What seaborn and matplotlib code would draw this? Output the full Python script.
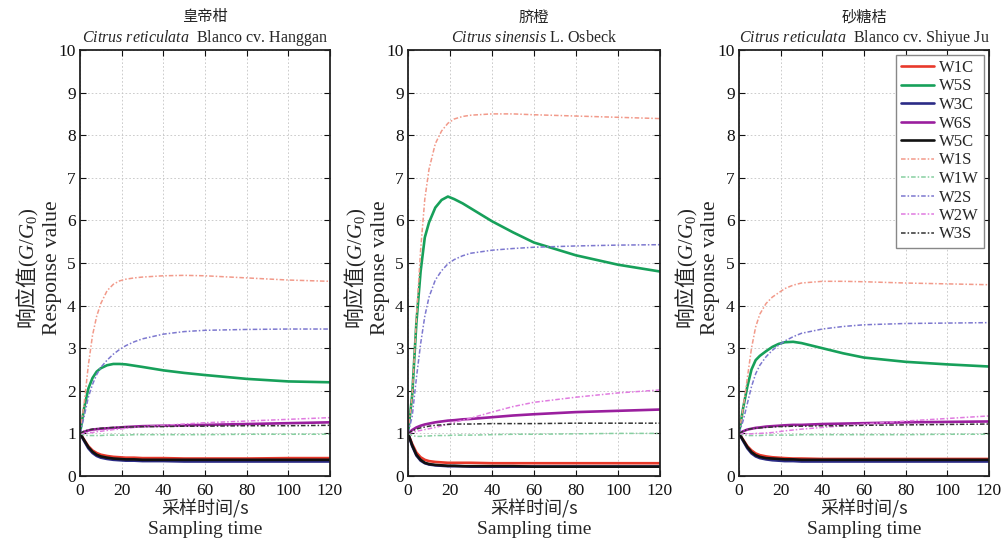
import numpy as np
import pandas as pd
import matplotlib
matplotlib.use("Agg")
import matplotlib.pyplot as plt
from matplotlib.lines import Line2D
import seaborn as sns

sensors = ["W1C", "W5S", "W3C", "W6S", "W5C", "W1S", "W1W", "W2S", "W2W", "W3S"]
time_s = [0, 2, 4, 6, 8, 10, 13, 16, 19, 22, 26, 30, 40, 50, 60, 80, 100, 120]

# response value G/G0, one row per sensor (same order as sensors)
hanggan = [
    [1.0, 0.85, 0.70, 0.60, 0.54, 0.50, 0.47, 0.45, 0.44, 0.43, 0.43, 0.42, 0.42, 0.41, 0.41, 0.41, 0.42, 0.42],
    [1.0, 1.60, 2.05, 2.30, 2.45, 2.53, 2.60, 2.63, 2.63, 2.62, 2.59, 2.56, 2.48, 2.42, 2.37, 2.28, 2.22, 2.20],
    [1.0, 0.82, 0.65, 0.54, 0.47, 0.43, 0.40, 0.38, 0.37, 0.36, 0.36, 0.35, 0.35, 0.34, 0.34, 0.34, 0.34, 0.34],
    [1.0, 1.04, 1.07, 1.09, 1.10, 1.11, 1.12, 1.13, 1.14, 1.15, 1.16, 1.17, 1.18, 1.19, 1.20, 1.22, 1.24, 1.26],
    [1.0, 0.84, 0.68, 0.57, 0.50, 0.46, 0.43, 0.41, 0.40, 0.39, 0.39, 0.38, 0.38, 0.38, 0.38, 0.38, 0.38, 0.38],
    [1.0, 1.70, 2.60, 3.30, 3.75, 4.05, 4.35, 4.50, 4.58, 4.62, 4.65, 4.67, 4.70, 4.71, 4.70, 4.65, 4.60, 4.57],
    [1.0, 0.96, 0.95, 0.95, 0.95, 0.95, 0.96, 0.96, 0.96, 0.96, 0.97, 0.97, 0.97, 0.97, 0.97, 0.98, 0.98, 0.98],
    [1.0, 1.40, 1.85, 2.15, 2.38, 2.55, 2.72, 2.86, 2.97, 3.06, 3.15, 3.22, 3.33, 3.39, 3.42, 3.44, 3.45, 3.45],
    [1.0, 1.00, 1.01, 1.02, 1.04, 1.05, 1.07, 1.09, 1.10, 1.12, 1.14, 1.16, 1.19, 1.22, 1.25, 1.29, 1.33, 1.37],
    [1.0, 1.05, 1.08, 1.10, 1.11, 1.12, 1.13, 1.14, 1.14, 1.15, 1.15, 1.16, 1.16, 1.17, 1.17, 1.18, 1.18, 1.19],
]
navel = [
    [1.0, 0.75, 0.55, 0.44, 0.38, 0.35, 0.33, 0.32, 0.31, 0.31, 0.31, 0.31, 0.30, 0.30, 0.30, 0.30, 0.30, 0.30],
    [1.0, 1.90, 3.60, 4.80, 5.60, 5.95, 6.30, 6.48, 6.56, 6.50, 6.40, 6.28, 5.98, 5.72, 5.48, 5.18, 4.96, 4.80],
    [1.0, 0.70, 0.48, 0.36, 0.30, 0.27, 0.25, 0.24, 0.23, 0.23, 0.23, 0.22, 0.22, 0.22, 0.22, 0.22, 0.22, 0.22],
    [1.0, 1.08, 1.14, 1.18, 1.21, 1.23, 1.26, 1.28, 1.30, 1.31, 1.33, 1.34, 1.38, 1.42, 1.45, 1.50, 1.53, 1.56],
    [1.0, 0.72, 0.50, 0.38, 0.31, 0.28, 0.26, 0.25, 0.24, 0.24, 0.23, 0.23, 0.23, 0.23, 0.22, 0.22, 0.22, 0.22],
    [1.0, 1.90, 3.70, 5.30, 6.50, 7.20, 7.80, 8.10, 8.28, 8.38, 8.44, 8.47, 8.50, 8.50, 8.48, 8.45, 8.42, 8.39],
    [1.0, 0.95, 0.93, 0.93, 0.94, 0.94, 0.95, 0.95, 0.95, 0.96, 0.96, 0.96, 0.97, 0.98, 0.98, 0.99, 1.00, 1.00],
    [1.0, 1.40, 2.30, 3.10, 3.75, 4.20, 4.60, 4.82, 4.98, 5.08, 5.17, 5.23, 5.30, 5.34, 5.37, 5.40, 5.42, 5.43],
    [1.0, 1.02, 1.05, 1.07, 1.09, 1.11, 1.14, 1.18, 1.22, 1.26, 1.31, 1.36, 1.50, 1.63, 1.73, 1.85, 1.95, 2.02],
    [1.0, 1.06, 1.10, 1.13, 1.15, 1.17, 1.19, 1.20, 1.21, 1.22, 1.22, 1.22, 1.23, 1.23, 1.23, 1.24, 1.24, 1.24],
]
shatang = [
    [1.0, 0.85, 0.70, 0.60, 0.53, 0.49, 0.46, 0.44, 0.43, 0.42, 0.41, 0.41, 0.40, 0.40, 0.40, 0.40, 0.40, 0.40],
    [1.0, 1.60, 2.10, 2.50, 2.72, 2.82, 2.93, 3.03, 3.10, 3.14, 3.15, 3.12, 3.00, 2.88, 2.78, 2.68, 2.62, 2.57],
    [1.0, 0.82, 0.65, 0.53, 0.46, 0.42, 0.39, 0.37, 0.36, 0.35, 0.35, 0.34, 0.34, 0.34, 0.34, 0.34, 0.34, 0.34],
    [1.0, 1.05, 1.09, 1.11, 1.13, 1.14, 1.16, 1.17, 1.18, 1.19, 1.20, 1.20, 1.22, 1.23, 1.24, 1.26, 1.27, 1.28],
    [1.0, 0.84, 0.68, 0.56, 0.49, 0.45, 0.42, 0.41, 0.40, 0.39, 0.39, 0.38, 0.38, 0.38, 0.38, 0.38, 0.38, 0.38],
    [1.0, 1.60, 2.30, 3.00, 3.50, 3.80, 4.05, 4.20, 4.30, 4.40, 4.48, 4.53, 4.57, 4.57, 4.56, 4.53, 4.51, 4.49],
    [1.0, 0.96, 0.95, 0.95, 0.95, 0.95, 0.96, 0.96, 0.96, 0.96, 0.96, 0.97, 0.97, 0.97, 0.97, 0.97, 0.98, 0.98],
    [1.0, 1.30, 1.70, 2.10, 2.40, 2.60, 2.80, 2.95, 3.07, 3.17, 3.27, 3.35, 3.45, 3.51, 3.55, 3.58, 3.59, 3.60],
    [1.0, 0.99, 0.99, 0.99, 1.00, 1.00, 1.01, 1.02, 1.04, 1.06, 1.08, 1.10, 1.14, 1.18, 1.22, 1.29, 1.35, 1.41],
    [1.0, 1.05, 1.09, 1.11, 1.12, 1.13, 1.14, 1.15, 1.16, 1.16, 1.17, 1.17, 1.18, 1.18, 1.19, 1.20, 1.21, 1.22],
]

titles_cn = ["皇帝柑", "脐橙", "砂糖桔"]
titles_la = [r"$\mathit{Citrus\ reticulata}$  Blanco cv. Hanggan",
             r"$\mathit{Citrus\ sinensis}$ L. Osbeck",
             r"$\mathit{Citrus\ reticulata}$  Blanco cv. Shiyue Ju"]

palette = {"W1C": "#e8392b", "W5S": "#17a05a", "W3C": "#2b2b86", "W6S": "#9a1f9e", "W5C": "#111111",
           "W1S": "#f29a8a", "W1W": "#86cfa0", "W2S": "#7d78cf", "W2W": "#e07be0", "W3S": "#333333"}
solid = ["W1C", "W5S", "W3C", "W6S", "W5C"]
dashes = {s: ("" if s in solid else (3, 1.3, 1, 1.3)) for s in sensors}
widths = {s: (1.9 if s in solid else 1.1) for s in sensors}

sns.set_style("ticks")
plt.rcParams["font.family"] = ["Liberation Serif", "Noto Sans CJK SC"]
plt.rcParams["mathtext.fontset"] = "custom"
plt.rcParams["mathtext.rm"] = "Liberation Serif"
plt.rcParams["mathtext.it"] = "Liberation Serif:italic"

W, H = 1001, 540
fig = plt.figure(figsize=(W / 100, H / 100), dpi=100)

lefts = [80, 408, 739]
widths_px = [250, 252, 250]
top, bottom = 50, 476


def fx(x):
    return x / W


def fy(y):
    return 1 - y / H


for i, vals in enumerate([hanggan, navel, shatang]):
    l, w = lefts[i], widths_px[i]
    ax = fig.add_axes([fx(l), fy(bottom), w / W, (bottom - top) / H])
    df = pd.DataFrame({"t": np.tile(time_s, len(sensors)),
                       "sensor": np.repeat(sensors, len(time_s)),
                       "v": np.ravel(vals)})
    sns.lineplot(data=df, x="t", y="v", hue="sensor", style="sensor", size="sensor",
                 hue_order=sensors, style_order=sensors, size_order=sensors,
                 palette=palette, dashes=dashes, sizes=widths,
                 estimator=None, legend=False, ax=ax)
    ax.set_xlim(0, 120)
    ax.set_ylim(0, 10)
    ax.set_xticks(range(0, 121, 20))
    ax.set_yticks(range(0, 11))
    ax.set_xlabel("")
    ax.set_ylabel("")
    ax.grid(True, ls=(0, (2, 2.5)), color="#c4c4c4", lw=0.6)
    ax.tick_params(direction="in", top=True, right=True, length=4, width=0.8,
                   labelsize=12.5, colors="#111111")
    ax.tick_params(axis="x", pad=5)
    ax.tick_params(axis="y", pad=3)
    for sp in ax.spines.values():
        sp.set_linewidth(1.3)
        sp.set_color("#222222")

    cx = l + w / 2
    fig.text(fx(cx), fy(17), titles_cn[i], ha="center", va="center", fontsize=11,
             family="Noto Sans CJK SC")
    fig.text(fx(cx), fy(38), titles_la[i], ha="center", va="center", fontsize=11.5)
    fig.text(fx(l - 52), fy(268), r"响应值$(G/G_0)$", rotation=90, ha="center", va="center",
             fontsize=15, family="Noto Sans CJK SC")
    fig.text(fx(l - 28), fy(268), "Response value", rotation=90, ha="center", va="center",
             fontsize=15.5)
    fig.text(fx(cx), fy(509), "采样时间/s", ha="center", va="center", fontsize=13,
             family="Noto Sans CJK SC")
    fig.text(fx(cx), fy(530), "Sampling time", ha="center", va="center", fontsize=14)

    if i == 2:
        handles = [Line2D([], [], color=palette[s], lw=widths[s],
                          ls="-" if s in solid else (0, dashes[s])) for s in sensors]
        ax.legend(handles, sensors, loc="upper right", fontsize=12, frameon=True,
                  fancybox=False, edgecolor="#888888", framealpha=1, borderaxespad=0.3,
                  handlelength=2.0, handletextpad=0.3, labelspacing=0.15, borderpad=0.3)

fig.savefig("out.png", dpi=100)
